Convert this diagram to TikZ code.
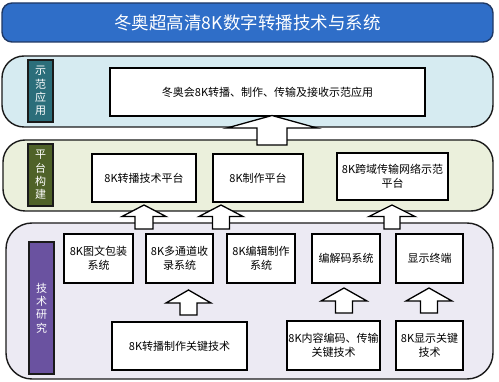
\documentclass[tikz,border=0pt]{standalone}
\usepackage{fontspec}
\setmainfont{Noto Sans CJK SC}
\newfontfamily\cjk{Noto Sans CJK SC}
\definecolor{titleblue}{HTML}{2F6EC8}
\definecolor{titleedge}{HTML}{1F3864}
\definecolor{layerA}{HTML}{D6EBF1}
\definecolor{layerB}{HTML}{EBF0DC}
\definecolor{layerC}{HTML}{ECEAF3}
\definecolor{labA}{HTML}{2B6E7A}
\definecolor{labB}{HTML}{4F6228}
\definecolor{labC}{HTML}{6A52A0}
\definecolor{edge}{HTML}{1A1A1A}
\begin{document}
\begin{tikzpicture}[x=1pt,y=-1pt,
  layer/.style={draw=edge,line width=1.4pt,rounded corners=22pt},
  lab/.style={draw=edge,line width=1.2pt,text=white,inner sep=0pt,font=\cjk\fontsize{11}{13.3}\selectfont,align=center},
  box/.style={draw=black,line width=1.4pt,fill=white,inner sep=1pt,align=center,font=\cjk\fontsize{11}{14}\selectfont},
  blk/.style={draw=black,line width=1.3pt,fill=white,line join=miter}]
\useasboundingbox (0,0) rectangle (499,382);
% title
\node[draw=titleedge,line width=1.4pt,fill=titleblue,rounded corners=10pt,minimum width=491pt,minimum height=39pt,inner sep=0pt,text=white,font=\cjk\fontsize{17.5}{20}\selectfont] (title) at (247.5,22.5) {冬奥超高清8K数字转播技术与系统};
% layers
\draw[layer,fill=layerA] (2,56) rectangle (493,127);
\draw[layer,fill=layerB] (3,140) rectangle (493,211);
\draw[layer,fill=layerC,rounded corners=26pt] (6,223) rectangle (493,379);
% labels
\node[lab,fill=labA,minimum width=25pt,minimum height=62pt] (labA) at (40.5,91) {示\\范\\应\\用};
\node[lab,fill=labB,minimum width=25pt,minimum height=62pt] (labB) at (40.5,175) {平\\台\\构\\建};
\node[lab,fill=labC,minimum width=25pt,minimum height=132pt] (labC) at (41.5,308) {技\\术\\研\\究};
% layer 1
\node[box,minimum width=315pt,minimum height=48pt] (app) at (267.5,92) {冬奥会8K转播、制作、传输及接收示范应用};
% layer 2
\node[box,minimum width=104pt,minimum height=48pt] (p1) at (144,178) {8K转播技术平台};
\node[box,minimum width=90pt,minimum height=48pt] (p2) at (258,178) {8K制作平台};
\node[box,minimum width=111pt,minimum height=47pt] (p3) at (392.5,176.5) {8K跨域传输网络示范\\平台};
% layer 3 top row
\node[box,minimum width=69pt,minimum height=49pt] (s1) at (98.5,258.5) {8K图文包装\\系统};
\node[box,minimum width=67pt,minimum height=49pt] (s2) at (179.5,258.5) {8K多通道收\\录系统};
\node[box,minimum width=68pt,minimum height=49pt] (s3) at (261,258.5) {8K编辑制作\\系统};
\node[box,minimum width=68pt,minimum height=49pt] (s4) at (346,258.5) {编解码系统};
\node[box,minimum width=67pt,minimum height=49pt] (s5) at (429.5,258.5) {显示终端};
% layer 3 bottom row
\node[box,minimum width=135pt,minimum height=48pt] (k1) at (179.5,346) {8K转播制作关键技术};
\node[box,minimum width=93pt,minimum height=49pt] (k2) at (333.5,345.5) {8K内容编码、传输\\关键技术};
\node[box,minimum width=67pt,minimum height=49pt] (k3) at (429.5,345.5) {8K显示关键\\技术};
% block arrows: centre x, bottom y, tip y, wing y, half head, half shaft
\newcommand\blockarr[6]{%
  \draw[blk] ({#1-#6},#2) -- ({#1-#6},#4) -- ({#1-#5},#4) -- (#1,#3) -- ({#1+#5},#4) -- ({#1+#6},#4) -- ({#1+#6},#2) -- cycle;}
\blockarr{272}{145}{115.5}{128}{45}{15}
\blockarr{144}{229}{205}{216.5}{22}{9}
\blockarr{221}{229}{205}{216.5}{22}{8.5}
\blockarr{392}{229}{205}{216.5}{23}{8}
\blockarr{188.5}{315}{290}{303}{22.5}{8.5}
\blockarr{344}{313}{288}{301}{23}{8.5}
\blockarr{429}{313}{288}{301}{23}{8.5}
\end{tikzpicture}
\end{document}
